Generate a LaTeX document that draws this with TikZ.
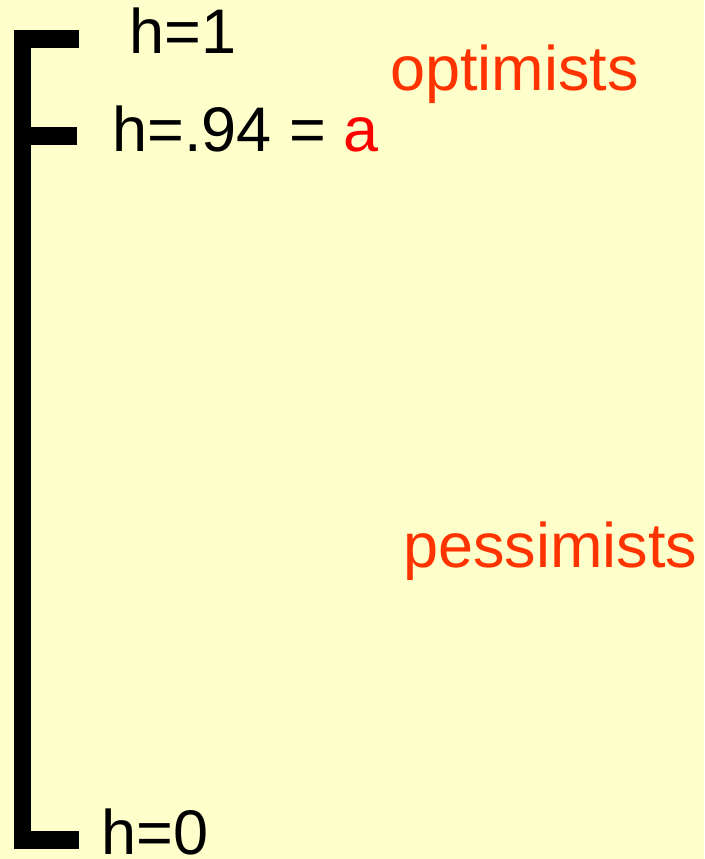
\documentclass[tikz,border=0pt]{standalone}
\usepackage{fontspec}
\setmainfont{Liberation Sans}
\usepackage{xcolor}
\usepackage{tikz}
\definecolor{paper}{HTML}{FFFFCC}
\definecolor{grouplabel}{HTML}{FF3300}
\definecolor{markred}{HTML}{FF0000}
\tikzset{
  hlabel/.style={anchor=base west,inner sep=0pt,font=\fontsize{63}{75}\selectfont},
  bar/.style={line width=17.5pt,line join=miter}
}

\begin{document}
\begin{tikzpicture}[x=1pt,y=-1pt]
  \fill[paper] (0,0) rectangle (704,859);
  \useasboundingbox (0,0) rectangle (704,859);
  \coordinate (top) at (79,39);
  \coordinate (bot) at (79,840);
  \draw[bar] (top) -- (22.5,39) -- (22.5,840) -- (bot);
  \coordinate (mid) at (22.5,136);
  \draw[bar] (mid) -- (77,136);
  \node[hlabel] (hone) at (129,54) {h=1};
  \node[hlabel] (ha) at (112,151) {h=.94 = \textcolor{markred}{a}};
  \node[hlabel] (hzero) at (101,854) {h=0};
  \node[hlabel,grouplabel] (opt) at (390,90) {optimists};
  \node[hlabel,grouplabel] (pess) at (403,567) {pessimists};
\end{tikzpicture}
\end{document}
